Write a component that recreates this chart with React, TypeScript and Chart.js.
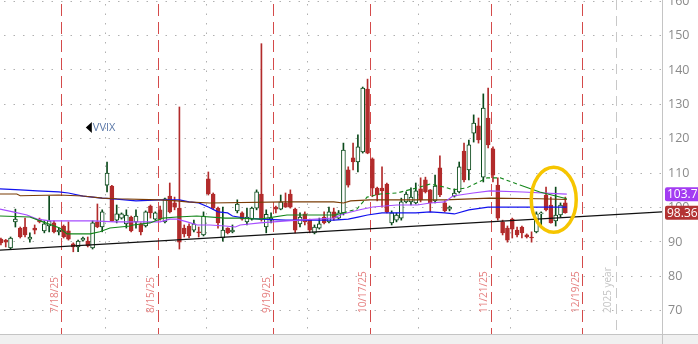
import React, { useEffect, useRef } from "react";
import { Chart, registerables } from "chart.js";
Chart.register(...registerables);

// Trading-day index 0 = 2025-07-01, last = 2025-12-16
const opens = [
  90.7, 90.4, 88.1, 95.7, 93.9, 94.2, 90.7, 93.9, 96.5, 93.1, 94.5, 95.4,
  92.8, 94.5, 93.1, 89.3, 88.4, 90.4, 90.1, 88.1, 95.7, 94.2, 106.4, 106.1,
  96.2, 96.8, 95.1, 97.1, 95.7, 95.1, 94.5, 100.3, 96.5, 99.2, 95.7, 103.2,
  101.2, 99.7, 93.9, 94.5, 93.3, 92.8, 91.9, 108.2, 103.8, 99.7, 91.0, 93.9,
  92.8, 98.9, 98.3, 95.7, 96.5, 99.7, 103.8, 94.2, 96.2, 100.0, 99.4, 101.2,
  103.8, 99.4, 95.1, 98.0, 96.2, 92.5, 93.9, 97.1, 95.7, 98.6, 96.8, 98.3,
  110.8, 114.3, 113.1, 116.0, 134.3, 114.0, 105.5, 105.5, 106.7, 95.4, 96.2, 96.8,
  101.5, 101.5, 101.2, 105.3, 107.9, 105.0, 101.8, 111.4, 101.2, 99.4, 103.2, 104.4,
  116.3, 110.8, 121.5, 123.6, 108.7, 125.9, 116.9, 106.4, 95.7, 93.9, 96.5, 93.3,
  94.2, 91.9, 91.3, 92.8, 98.0, 103.5, 100.6, 96.0, 97.7, 101.2,
];
const highs = [
  91.0, 90.6, 91.3, 99.4, 94.2, 96.8, 92.5, 94.8, 96.8, 96.0, 103.2, 96.0,
  93.9, 94.8, 95.7, 89.6, 90.4, 91.3, 91.3, 96.0, 100.9, 99.2, 113.1, 106.3,
  100.6, 98.3, 99.2, 97.4, 99.2, 95.4, 98.9, 100.6, 98.6, 100.3, 102.6, 107.0,
  102.9, 129.1, 94.8, 95.1, 96.2, 94.2, 98.6, 110.2, 104.1, 100.0, 100.0, 94.0,
  94.8, 102.1, 98.6, 99.7, 100.0, 105.0, 147.5, 99.2, 98.3, 100.3, 103.5, 104.1,
  105.0, 99.7, 98.3, 98.6, 96.5, 94.8, 96.8, 98.6, 100.0, 99.7, 99.0, 118.6,
  111.7, 118.6, 121.0, 134.9, 137.2, 114.3, 105.8, 111.7, 107.0, 98.9, 98.3, 102.6,
  104.4, 105.6, 107.0, 108.5, 108.7, 105.1, 109.3, 114.9, 101.8, 100.3, 105.3, 113.1,
  118.6, 119.5, 126.8, 125.9, 132.9, 134.6, 117.5, 108.5, 96.2, 94.5, 96.8, 94.2,
  94.5, 92.2, 92.8, 98.6, 98.6, 105.8, 102.9, 105.8, 101.2, 102.9,
];
const lows = [
  89.0, 88.4, 87.8, 94.2, 91.0, 91.3, 89.8, 92.2, 95.4, 92.5, 92.8, 92.5,
  91.9, 91.0, 90.4, 87.0, 87.0, 90.1, 88.4, 87.8, 94.0, 92.8, 104.4, 95.8,
  95.4, 96.5, 93.9, 92.8, 93.9, 91.9, 94.2, 96.8, 96.2, 96.2, 95.4, 98.3,
  99.2, 87.8, 91.3, 91.0, 92.8, 91.3, 91.6, 103.5, 99.4, 93.9, 90.1, 92.2,
  92.5, 98.3, 96.2, 94.8, 96.2, 99.2, 95.9, 92.5, 95.4, 98.3, 99.2, 99.9,
  99.7, 92.5, 94.2, 94.8, 92.5, 92.2, 93.6, 95.1, 95.4, 96.2, 96.5, 97.7,
  105.8, 110.8, 110.2, 115.7, 115.5, 103.0, 101.8, 100.0, 98.3, 94.8, 95.7, 96.2,
  101.2, 100.6, 100.9, 101.5, 104.1, 98.6, 101.2, 103.0, 98.6, 98.9, 102.9, 104.1,
  107.3, 107.9, 118.9, 118.6, 107.3, 117.2, 107.3, 96.2, 91.9, 89.8, 91.0, 91.3,
  91.0, 91.0, 89.8, 92.5, 94.8, 98.9, 95.3, 94.5, 97.1, 98.2,
];
const closes = [
  89.6, 89.8, 91.0, 96.5, 91.3, 91.9, 91.3, 93.3, 95.7, 95.1, 96.0, 92.8,
  93.3, 91.3, 90.7, 88.4, 90.1, 91.0, 88.7, 95.4, 94.2, 98.6, 109.9, 96.0,
  98.0, 98.0, 97.7, 93.1, 97.4, 92.8, 98.6, 98.3, 98.3, 96.5, 102.4, 98.6,
  100.0, 89.8, 92.2, 91.6, 95.1, 92.5, 97.4, 103.8, 99.7, 95.4, 93.3, 92.5,
  93.3, 100.9, 96.5, 97.1, 99.7, 104.4, 96.4, 97.9, 96.8, 99.4, 101.5, 100.0,
  100.0, 93.3, 97.1, 95.7, 93.3, 94.2, 95.1, 95.4, 98.6, 96.8, 98.3, 116.6,
  106.4, 113.1, 117.5, 134.6, 115.7, 105.5, 103.5, 104.7, 98.6, 98.3, 97.7, 101.5,
  103.8, 102.9, 104.7, 102.1, 104.4, 101.2, 106.1, 103.5, 98.9, 100.0, 104.1, 111.7,
  107.9, 118.1, 124.4, 119.5, 128.8, 118.1, 109.3, 96.8, 92.5, 90.4, 93.6, 91.9,
  92.5, 91.3, 91.0, 98.0, 98.3, 99.2, 95.4, 97.7, 100.6, 98.36,
];

// Moving averages: [trading-day index, value]
const maBlue: [number, number][] = [
  [-0.2, 105.3], [4, 105.0], [7.5, 104.7], [12, 104.4], [14, 104.1], [17, 103.2],
  [21, 102.6], [24, 102.3], [28, 101.8], [33, 102.1], [37, 102.1], [39, 101.5],
  [41, 101.2], [43, 100.0], [45, 98.6], [47, 98.3], [48, 97.4], [50.5, 96.8],
  [54, 96.5], [59, 96.2], [69, 96.2], [72, 96.5], [74, 97.1], [76, 97.7],
  [79, 98.3], [86, 98.3], [89, 98.6], [92, 98.3], [94, 98.0], [97, 99.2],
  [101, 100.0], [117.3, 100.0],
];
const maBrown: [number, number][] = [
  [-0.2, 103.8], [3.3, 103.8], [4, 103.3], [12, 103.5], [17, 103.2], [21, 102.6],
  [24, 102.4], [33, 102.1], [36.5, 101.8], [38.5, 101.5], [43.3, 101.2], [59, 101.5],
  [69, 101.5], [71, 101.2], [72.5, 101.8], [76.5, 102.1], [92, 102.1], [101.4, 102.6],
  [111.7, 102.4], [117.3, 102.2],
];
const maPurple: [number, number][] = [
  [-0.2, 99.4], [2.5, 98.6], [5.4, 97.7], [7.5, 96.5], [10.2, 96.0], [19.1, 96.0],
  [23.7, 95.7], [33, 95.7], [35, 96.5], [36.5, 96.5], [38.6, 95.7], [40.7, 94.8],
  [43.3, 94.8], [46.5, 94.5], [48.6, 94.2], [49.6, 94.8], [53.7, 95.4], [59.3, 96.0],
  [69, 96.8], [70.9, 98.0], [74.4, 99.2], [77.1, 100.0], [82.1, 100.6], [86.3, 100.6],
  [89, 101.2], [92, 101.5], [93.7, 103.2], [97.9, 104.1], [101.4, 104.7], [108.2, 104.4],
  [117.3, 103.76],
];
const maGreen: [number, number][] = [
  [-0.2, 97.4], [6, 97.1], [8.7, 95.7], [12.2, 93.9], [13.7, 92.2], [18.5, 92.2],
  [20.5, 92.8], [22.6, 93.9], [26.8, 94.5], [27.4, 94.8], [30.9, 95.4], [33.6, 96.8],
  [36.5, 97.1], [40.6, 97.4], [46.5, 96.8], [49.6, 96.8], [53.7, 96.5], [59.3, 97.7],
  [69.3, 97.7], [70.9, 98.3], [73.8, 99.4], [75.9, 102.9], [78.6, 103.8], [82.1, 104.1],
  [86.3, 105.6], [89, 106.7], [92, 105.8], [93.7, 105.0], [96.6, 105.6], [100.8, 108.5],
  [103.5, 108.5], [107.6, 106.4], [111.7, 104.4], [117.3, 102.4],
];
const greenDashFrom = 70;
const greenDashTo = 110;
const trendLine: [number, number][] = [[-0.2, 87.5], [137.1, 98.6]];

const yTicks = [70, 80, 90, 100, 110, 120, 130, 140, 150, 160];
const expiryIdx = [12, 32, 56, 76, 101, 120];
const expiryLabels = ["7/18/25", "8/15/25", "9/19/25", "10/17/25", "11/21/25", "12/19/25"];
const monthEndIdx = [21, 42, 63, 86, 105];
const yearEndIdx = 127;
const yearLabel = "2025 year";
const symbol = "VVIX";
const symbolAt: [number, number] = [17.6, 123.1];
const lastClose = 98.36;
const lastPurple = 103.76;
const circle = { x: 114.6, y: 102.1, rx: 4.66, ry: 9.45 };

const RED = "#b22b2b";
const GREEN = "#0b4a1b";

export default function App() {
  const ref = useRef<HTMLCanvasElement>(null);
  useEffect(() => {
    const canvas = ref.current!;
    const idx = opens.map((_, k) => k);
    const up = idx.map((k) => closes[k] >= opens[k]);
    const wicks = idx.map((k) => ({ x: k, y: [lows[k], highs[k]] }));
    const bodies = idx.map((k) => ({
      x: k,
      y: [Math.min(opens[k], closes[k]), Math.max(opens[k], closes[k])],
    }));
    const pts = (a: [number, number][]) => a.map(([x, y]) => ({ x, y }));

    const decor = {
      id: "decor",
      beforeDraw(chart: any) {
        const c = chart.ctx;
        c.save();
        c.fillStyle = "#ffffff";
        c.fillRect(0, 0, chart.width, chart.height);
        c.restore();
      },
      beforeDatasetsDraw(chart: any) {
        const c = chart.ctx;
        const { x, y } = chart.scales;
        const a = chart.chartArea;
        c.save();
        c.lineWidth = 1;
        c.strokeStyle = "#b0b0b0";
        c.setLineDash([1.5, 8]);
        yTicks.forEach((v) => {
          const py = Math.round(y.getPixelForValue(v)) + 0.5;
          c.beginPath();
          c.moveTo(a.left + 4, py);
          c.lineTo(a.right, py);
          c.stroke();
        });
        monthEndIdx.forEach((k) => {
          const px = Math.round(x.getPixelForValue(k + 0.5)) + 0.5;
          c.beginPath();
          c.moveTo(px, a.top + 4);
          c.lineTo(px, a.bottom);
          c.stroke();
        });
        c.strokeStyle = "#c8c8c8";
        c.setLineDash([10, 6]);
        {
          const px = Math.round(x.getPixelForValue(yearEndIdx + 0.5)) + 0.5;
          c.beginPath();
          c.moveTo(px, a.top);
          c.lineTo(px, a.bottom);
          c.stroke();
        }
        c.strokeStyle = "#d44a4a";
        c.setLineDash([12, 6]);
        expiryIdx.forEach((k) => {
          const px = Math.round(x.getPixelForValue(k + 0.5)) + 0.5;
          c.beginPath();
          c.moveTo(px, a.top + 4);
          c.lineTo(px, a.bottom);
          c.stroke();
        });
        c.setLineDash([]);
        c.font = '10px "Open Sans"';
        c.textAlign = "left";
        c.textBaseline = "middle";
        const vlabel = (txt: string, px: number, color: string) => {
          c.save();
          c.translate(px, 313);
          c.rotate(-Math.PI / 2);
          c.fillStyle = color;
          c.fillText(txt, 0, 0);
          c.restore();
        };
        expiryIdx.forEach((k, i) => {
          vlabel(expiryLabels[i], x.getPixelForValue(k + 0.5) - 6.5, "#e57f7f");
        });
        vlabel(yearLabel, x.getPixelForValue(yearEndIdx + 0.5) - 8, "#c4c4c4");
        const sx = x.getPixelForValue(symbolAt[0]);
        const sy = y.getPixelForValue(symbolAt[1]);
        c.fillStyle = "#000";
        c.beginPath();
        c.moveTo(sx, sy);
        c.lineTo(sx + 6, sy - 5.5);
        c.lineTo(sx + 6, sy + 5.5);
        c.closePath();
        c.fill();
        c.font = '11px "Open Sans"';
        c.fillStyle = "#5b78a8";
        c.fillText(symbol, sx + 7, sy);
        c.restore();
      },
      afterDatasetsDraw(chart: any) {
        const c = chart.ctx;
        const { x, y } = chart.scales;
        const a = chart.chartArea;
        c.save();
        const cx = x.getPixelForValue(circle.x);
        const cy = y.getPixelForValue(circle.y);
        const rx = Math.abs(x.getPixelForValue(circle.x + circle.rx) - cx);
        const ry = Math.abs(y.getPixelForValue(circle.y + circle.ry) - cy);
        c.strokeStyle = "#f6c500";
        c.lineWidth = 3.5;
        c.beginPath();
        c.ellipse(cx, cy, rx, ry, 0, 0, Math.PI * 2);
        c.stroke();
        c.fillStyle = "#ffffff";
        c.fillRect(a.right, 0, chart.width - a.right, a.bottom);
        c.lineWidth = 1;
        c.strokeStyle = "#c4c4c4";
        c.beginPath();
        c.moveTo(a.right + 0.5, 0);
        c.lineTo(a.right + 0.5, chart.height);
        c.stroke();
        c.fillStyle = "#f0f0f0";
        c.fillRect(0, a.bottom, chart.width, chart.height - a.bottom);
        c.strokeStyle = "#c4c4c4";
        c.beginPath();
        c.moveTo(0, a.bottom + 0.5);
        c.lineTo(chart.width, a.bottom + 0.5);
        c.stroke();
        c.beginPath();
        c.moveTo(a.right + 0.5, a.bottom);
        c.lineTo(a.right + 0.5, chart.height);
        c.stroke();
        c.font = '12.5px "Open Sans"';
        c.textAlign = "left";
        c.textBaseline = "middle";
        c.fillStyle = "#8a8a8a";
        yTicks.forEach((v) => {
          c.fillText(String(v), a.right + 6, y.getPixelForValue(v) + 0.5);
        });
        const tag = (v: number, bg: string) => {
          const py = y.getPixelForValue(v);
          c.fillStyle = bg;
          c.beginPath();
          c.roundRect(a.right + 3, py - 7, 40, 14, 2);
          c.fill();
          c.fillStyle = "#ffffff";
          c.font = '12px "Open Sans"';
          c.fillText(v.toFixed(2), a.right + 5, py + 0.5);
        };
        tag(lastPurple, "#a33cf2");
        tag(lastClose, "#b33333");
        c.restore();
      },
    };

    const line = (data: [number, number][], color: string, width: number, order: number, extra: any = {}) => ({
      type: "line",
      data: pts(data),
      borderColor: color,
      borderWidth: width,
      pointRadius: 0,
      order,
      ...extra,
    });

    const chart = new Chart(canvas, {
      type: "bar",
      data: {
        datasets: [
          line(trendLine, "#111111", 1.3, 0),
          line(maGreen, "#13861a", 1.1, 1, {
            segment: {
              borderDash: (ctx: any) =>
                ctx.p0.parsed.x >= greenDashFrom && ctx.p1.parsed.x <= greenDashTo ? [4, 3] : undefined,
            },
          }),
          line(maPurple, "#a64dff", 1.1, 1),
          line(maBrown, "#7a3c06", 1.1, 1),
          line(maBlue, "#1212ee", 1.2, 1),
          {
            type: "bar",
            data: bodies,
            backgroundColor: up.map((u) => (u ? "#ffffff" : RED)),
            borderColor: up.map((u) => (u ? GREEN : RED)),
            borderWidth: 1,
            borderSkipped: false,
            barThickness: 4,
            grouped: false,
            order: 2,
          },
          {
            type: "bar",
            data: wicks,
            backgroundColor: up.map((u) => (u ? GREEN : RED)),
            borderWidth: 0,
            barThickness: 1,
            grouped: false,
            order: 3,
          },
        ] as any,
      },
      options: {
        animation: false,
        responsive: false,
        maintainAspectRatio: false,
        layout: { padding: { left: 0, top: 0, right: 36, bottom: 10 } },
        plugins: { legend: { display: false }, tooltip: { enabled: false } },
        scales: {
          x: { type: "linear", min: -0.19, max: 137.04, offset: false, display: false },
          y: { type: "linear", min: 63.1, max: 160.2, display: false },
        },
      } as any,
      plugins: [decor],
    });
    return () => chart.destroy();
  }, []);
  return (
    <div style={{ position: "fixed", left: 0, top: 0, width: 698, height: 344 }}>
      <canvas ref={ref} width={698} height={344} style={{ display: "block" }} />
    </div>
  );
}
